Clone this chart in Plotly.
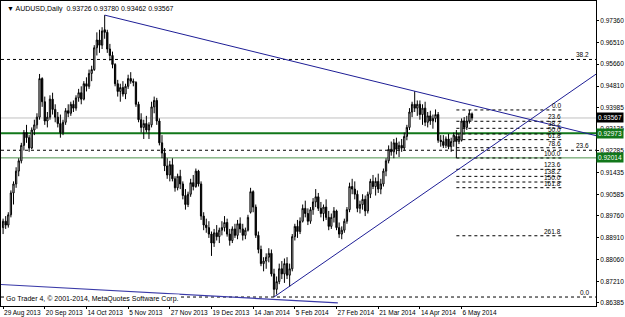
import plotly.graph_objects as go

# ---------------- data ----------------
opens = [0.8930,0.8955,0.8940,0.8980,0.9065,0.9100,0.9150,0.9190,0.9250,0.9300,
0.9280,0.9240,0.9310,0.9330,0.9360,0.9510,0.9420,0.9345,0.9360,0.9430,
0.9390,0.9360,0.9335,0.9300,0.9340,0.9385,0.9375,0.9410,0.9395,0.9435,
0.9455,0.9430,0.9490,0.9480,0.9530,0.9545,0.9630,0.9660,0.9640,0.9700,
0.9690,0.9625,0.9600,0.9565,0.9490,0.9460,0.9475,0.9450,0.9480,0.9510,
0.9500,0.9495,0.9410,0.9350,0.9320,0.9335,0.9310,0.9330,0.9400,0.9425,
0.9345,0.9260,0.9220,0.9170,0.9135,0.9175,0.9120,0.9085,0.9130,0.9100,
0.9055,0.9020,0.9060,0.9105,0.9090,0.9150,0.9100,0.8975,0.8940,0.8930,
0.8905,0.8870,0.8910,0.8895,0.8920,0.8930,0.8950,0.8905,0.8880,0.8925,
0.8900,0.8945,0.8925,0.8900,0.8920,0.8990,0.9070,0.9010,0.8900,0.8845,
0.8790,0.8800,0.8815,0.8830,0.8750,0.8690,0.8720,0.8770,0.8750,0.8790,
0.8745,0.8770,0.8895,0.8935,0.8915,0.8955,0.9005,0.8985,0.8955,0.9000,
0.9030,0.9050,0.9005,0.8985,0.9010,0.8970,0.8935,0.8970,0.8995,0.8930,
0.8905,0.8920,0.8955,0.9000,0.9090,0.9080,0.9060,0.9005,0.9020,0.9040,
0.8995,0.9060,0.9110,0.9090,0.9110,0.9080,0.9100,0.9150,0.9190,0.9235,
0.9225,0.9260,0.9235,0.9250,0.9240,0.9285,0.9320,0.9380,0.9410,0.9395,
0.9410,0.9370,0.9395,0.9340,0.9365,0.9345,0.9355,0.9370,0.9270,0.9265,
0.9250,0.9275,0.9245,0.9265,0.9285,0.9265,0.9270,0.9345,0.9320,0.9345,
0.93726]
highs = [0.8965,0.8975,0.8990,0.9075,0.9110,0.9165,0.9200,0.9260,0.9310,0.9330,
0.9290,0.9320,0.9350,0.9375,0.9528,0.9515,0.9440,0.9380,0.9445,0.9455,
0.9410,0.9380,0.9370,0.9350,0.9395,0.9410,0.9420,0.9425,0.9445,0.9470,
0.9480,0.9500,0.9515,0.9545,0.9560,0.9640,0.9690,0.9700,0.9710,0.9757,
0.9700,0.9645,0.9615,0.9570,0.9505,0.9490,0.9500,0.9490,0.9525,0.9535,
0.9510,0.9500,0.9420,0.9375,0.9350,0.9365,0.9340,0.9420,0.9440,0.9435,
0.9355,0.9290,0.9240,0.9200,0.9190,0.9200,0.9130,0.9140,0.9155,0.9110,
0.9080,0.9070,0.9120,0.9135,0.9160,0.9155,0.9110,0.8990,0.8965,0.8955,
0.8915,0.8925,0.8940,0.8930,0.8955,0.8975,0.8965,0.8925,0.8935,0.8945,
0.8960,0.8970,0.8945,0.8930,0.8980,0.9085,0.9075,0.9020,0.8915,0.8860,
0.8815,0.8830,0.8850,0.8845,0.8770,0.8740,0.8790,0.8800,0.8810,0.8815,
0.8790,0.8905,0.8945,0.8960,0.8970,0.9020,0.9035,0.9005,0.9010,0.9045,
0.9080,0.9065,0.9030,0.9020,0.9040,0.8995,0.8985,0.9010,0.9000,0.8950,
0.8935,0.8965,0.9010,0.9105,0.9120,0.9110,0.9075,0.9035,0.9060,0.9055,
0.9070,0.9120,0.9135,0.9125,0.9140,0.9120,0.9160,0.9200,0.9250,0.9265,
0.9275,0.9280,0.9265,0.9275,0.9300,0.9330,0.9395,0.9420,0.9461,0.9425,
0.9425,0.9410,0.9420,0.9380,0.9385,0.9370,0.9390,0.9380,0.9290,0.9290,
0.9285,0.9295,0.9280,0.9300,0.9310,0.9295,0.9355,0.9360,0.9365,0.9388,
0.93780]
lows = [0.8905,0.8925,0.8930,0.8970,0.9020,0.9085,0.9130,0.9180,0.9230,0.9260,
0.9225,0.9235,0.9290,0.9315,0.9350,0.9400,0.9330,0.9320,0.9350,0.9370,
0.9340,0.9320,0.9280,0.9290,0.9330,0.9360,0.9365,0.9380,0.9385,0.9420,
0.9410,0.9425,0.9460,0.9470,0.9500,0.9540,0.9600,0.9610,0.9625,0.9665,
0.9610,0.9580,0.9550,0.9480,0.9440,0.9420,0.9440,0.9430,0.9470,0.9490,
0.9480,0.9400,0.9340,0.9300,0.9275,0.9300,0.9275,0.9320,0.9375,0.9330,
0.9250,0.9200,0.9150,0.9120,0.9110,0.9110,0.9070,0.9075,0.9080,0.9040,
0.9000,0.9010,0.9050,0.9075,0.9085,0.9090,0.8960,0.8920,0.8910,0.8890,
0.8820,0.8855,0.8880,0.8870,0.8900,0.8915,0.8895,0.8860,0.8870,0.8890,
0.8885,0.8910,0.8880,0.8885,0.8915,0.8985,0.8990,0.8890,0.8830,0.8780,
0.8760,0.8770,0.8795,0.8740,0.8660,0.8670,0.8710,0.8730,0.8715,0.8730,
0.8700,0.8760,0.8880,0.8890,0.8905,0.8950,0.8970,0.8940,0.8945,0.8980,
0.9010,0.8995,0.8970,0.8955,0.8960,0.8920,0.8925,0.8950,0.8920,0.8890,
0.8885,0.8910,0.8945,0.8990,0.9060,0.9040,0.8990,0.8985,0.9000,0.8975,
0.8985,0.9045,0.9080,0.9055,0.9065,0.9060,0.9090,0.9130,0.9180,0.9210,
0.9200,0.9215,0.9205,0.9225,0.9230,0.9270,0.9310,0.9360,0.9380,0.9365,
0.9350,0.9330,0.9325,0.9320,0.9330,0.9315,0.9340,0.9260,0.9245,0.9240,
0.9240,0.9235,0.9225,0.9245,0.9201,0.9255,0.9265,0.9300,0.9310,0.9335,
0.93462]
closes = [0.8955,0.8940,0.8980,0.9065,0.9100,0.9150,0.9190,0.9250,0.9300,0.9280,
0.9240,0.9310,0.9330,0.9360,0.9510,0.9420,0.9345,0.9360,0.9430,0.9390,
0.9360,0.9335,0.9300,0.9340,0.9385,0.9375,0.9410,0.9395,0.9435,0.9455,
0.9430,0.9490,0.9480,0.9530,0.9545,0.9630,0.9660,0.9640,0.9695,0.9690,
0.9625,0.9600,0.9565,0.9490,0.9460,0.9475,0.9450,0.9480,0.9510,0.9500,
0.9495,0.9410,0.9350,0.9320,0.9335,0.9310,0.9330,0.9400,0.9425,0.9345,
0.9260,0.9220,0.9170,0.9135,0.9175,0.9120,0.9085,0.9130,0.9100,0.9055,
0.9020,0.9060,0.9105,0.9090,0.9150,0.9100,0.8975,0.8940,0.8930,0.8905,
0.8870,0.8910,0.8895,0.8920,0.8930,0.8950,0.8905,0.8880,0.8925,0.8900,
0.8945,0.8925,0.8900,0.8920,0.8970,0.9070,0.9010,0.8900,0.8845,0.8790,
0.8800,0.8815,0.8830,0.8750,0.8690,0.8720,0.8770,0.8750,0.8790,0.8745,
0.8770,0.8895,0.8935,0.8915,0.8955,0.9005,0.8985,0.8955,0.9000,0.9030,
0.9050,0.9005,0.8985,0.9010,0.8970,0.8935,0.8970,0.8995,0.8930,0.8905,
0.8920,0.8955,0.9000,0.9090,0.9080,0.9060,0.9005,0.9020,0.9040,0.8995,
0.9060,0.9110,0.9090,0.9110,0.9080,0.9100,0.9150,0.9190,0.9235,0.9225,
0.9260,0.9235,0.9250,0.9240,0.9285,0.9320,0.9380,0.9410,0.9395,0.9410,
0.9370,0.9395,0.9340,0.9365,0.9345,0.9355,0.9370,0.9270,0.9265,0.9250,
0.9275,0.9245,0.9265,0.9290,0.9265,0.9285,0.9345,0.9320,0.9345,0.9375,
0.93567]

tick_bars = [0, 16, 32, 48, 64, 80, 96, 112, 128, 144, 160, 176]
tick_labels = ["29 Aug 2013", "20 Sep 2013", "14 Oct 2013", "5 Nov 2013", "27 Nov 2013",
               "19 Dec 2013", "14 Jan 2014", "5 Feb 2014", "27 Feb 2014", "21 Mar 2014",
               "14 Apr 2014", "6 May 2014"]
price_ticks = [0.97360, 0.96510, 0.95660, 0.94810, 0.93985, 0.93135, 0.92285,
               0.91435, 0.90585, 0.89760, 0.88910, 0.88060, 0.87210, 0.86385]

bid_price = 0.93567
level_upper = 0.92973
level_lower = 0.92014

# large Fibonacci retracement (1.1080 -> 0.8660)
fib1_high, fib1_low = 1.1080, 0.8660
fib1_levels = [0.0, 23.6, 38.2]
# small Fibonacci (anchored at bar 174 low)
fib2_high, fib2_low = 0.9388, 0.9201
fib2_bars = [174, 215]
fib2_levels = [0.0, 23.6, 38.2, 50.0, 61.8, 78.6, 100.0, 123.6, 138.2, 150.0, 161.8, 261.8]

# trend lines: (bar, price) anchors
trend_down = ([39, 158], [0.9757, 0.9461])
trend_up = ([104, 226], [0.8660, 0.9516])
trend_old = ([-1.2, 128.5], [0.8709, 0.8637])

X_MIN, X_MAX = -0.8, 227.6
Y_MIN, Y_MAX = 0.86251, 0.98119

FONT = "Liberation Sans"
FS = 6.5
NAVY = "#1e1e96"

x = list(range(len(closes)))
fig = go.Figure()
fig.add_trace(go.Candlestick(
    x=x, open=opens, high=highs, low=lows, close=closes,
    increasing=dict(line=dict(color="#000000", width=1), fillcolor="#ffffff"),
    decreasing=dict(line=dict(color="#000000", width=1), fillcolor="#000000"),
    whiskerwidth=0, showlegend=False, hoverinfo="skip"))


def ray(anchors, xend):
    (xa, xb), (pa, pb) = anchors
    slope = (pb - pa) / (xb - xa)
    return [xa, xend], [pa, pa + slope * (xend - xa)]


for anc in (trend_down, trend_up):
    xs, ys = ray(anc, X_MAX)
    fig.add_trace(go.Scatter(x=xs, y=ys, mode="lines", line=dict(color=NAVY, width=1),
                             showlegend=False, hoverinfo="skip"))
fig.add_trace(go.Scatter(x=trend_old[0], y=trend_old[1], mode="lines",
                         line=dict(color="#3a3aa8", width=1.2), showlegend=False, hoverinfo="skip"))

shapes = []
annots = []
shapes.append(dict(type="line", xref="paper", x0=0, x1=1, y0=bid_price, y1=bid_price,
                   line=dict(color="#c0c0c0", width=1), layer="below"))
shapes.append(dict(type="line", xref="paper", x0=0, x1=1, y0=level_upper, y1=level_upper,
                   line=dict(color="#11771a", width=2), layer="below"))
shapes.append(dict(type="line", xref="paper", x0=0, x1=1, y0=level_lower, y1=level_lower,
                   line=dict(color="#4b8f4b", width=1), layer="below"))

for lv in fib1_levels:
    p = fib1_low + lv / 100 * (fib1_high - fib1_low)
    shapes.append(dict(type="line", xref="paper", x0=0, x1=1, y0=p, y1=p,
                       line=dict(color="#000000", width=1, dash="dot"), layer="below"))
    annots.append(dict(x=0.992, xref="paper", y=p, yref="y", text=f"{lv:.1f}", showarrow=False,
                       xanchor="right", yanchor="bottom", yshift=-1,
                       font=dict(family=FONT, size=FS, color="#000000")))

for lv in fib2_levels:
    p = fib2_high - lv / 100 * (fib2_high - fib2_low)
    shapes.append(dict(type="line", x0=fib2_bars[0], x1=fib2_bars[1], y0=p, y1=p,
                       line=dict(color="#000000", width=1, dash="dot"), layer="below"))
    annots.append(dict(x=fib2_bars[1], y=p, text=f"{lv:.1f}", showarrow=False,
                       xanchor="right", yanchor="bottom", yshift=-1,
                       font=dict(family=FONT, size=FS, color="#000000")))

for p, bg in [(bid_price, "#000000"), (level_upper, "#11771a"), (level_lower, "#11771a")]:
    annots.append(dict(x=1, xref="paper", y=p, yref="y", text=f"{p:.5f}", showarrow=False,
                       xanchor="left", yanchor="middle", xshift=0, bgcolor=bg, borderpad=1,
                       font=dict(family=FONT, size=FS, color="#ffffff")))

annots.append(dict(x=0.006, xref="paper", y=0.995, yref="paper",
                   text="▼ AUDUSD,Daily  0.93726 0.93780 0.93462 0.93567", showarrow=False,
                   xanchor="left", yanchor="top", font=dict(family=FONT, size=7, color="#000000")))
annots.append(dict(x=0.006, xref="paper", y=0.005, yref="paper",
                   text="Go Trader 4, © 2001-2014, MetaQuotes Software Corp.", showarrow=False,
                   xanchor="left", yanchor="bottom", bgcolor="#ffffff", borderpad=0,
                   font=dict(family=FONT, size=7, color="#000000")))

fig.update_layout(
    width=625, height=317, margin=dict(l=1, r=29, t=1, b=11, autoexpand=False),
    paper_bgcolor="#ffffff", plot_bgcolor="#ffffff",
    shapes=shapes, annotations=annots, showlegend=False,
    xaxis=dict(range=[X_MIN, X_MAX], tickvals=tick_bars, ticktext=tick_labels, tickangle=0,
               automargin=False,
               ticks="outside", ticklen=2, tickcolor="#000000", showgrid=False, zeroline=False,
               showline=True, linecolor="#000000", linewidth=1, mirror=True,
               ticklabelposition="outside right", rangeslider=dict(visible=False),
               tickfont=dict(family=FONT, size=FS, color="#000000")),
    yaxis=dict(range=[Y_MIN, Y_MAX], side="right", tickvals=price_ticks, automargin=False,
               ticktext=[f"{v:.5f}" for v in price_ticks],
               ticks="outside", ticklen=2, tickcolor="#000000", showgrid=False, zeroline=False,
               showline=True, linecolor="#000000", linewidth=1, mirror=True,
               tickfont=dict(family=FONT, size=FS, color="#000000")),
)

fig.write_html("out.html")
